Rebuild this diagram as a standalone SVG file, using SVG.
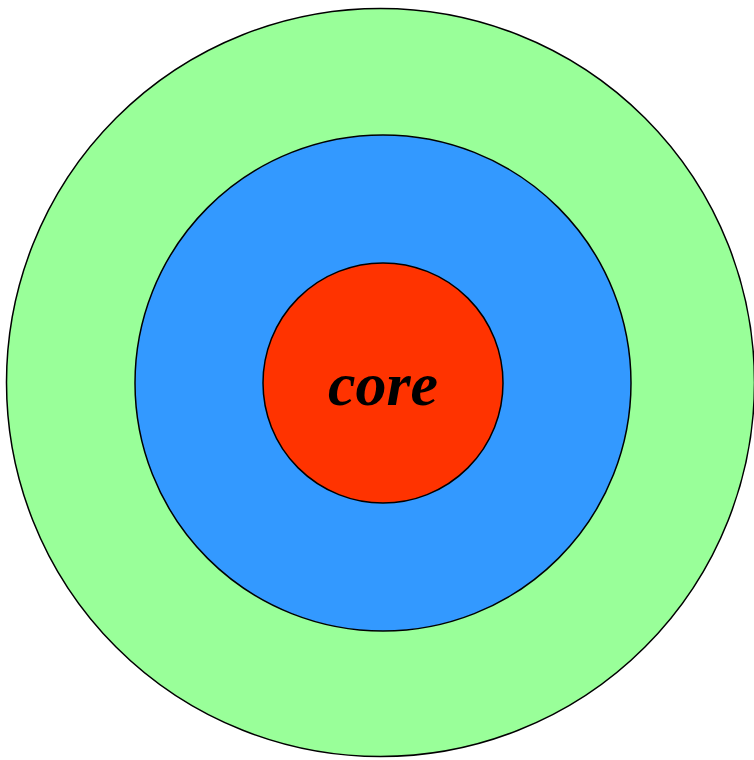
<svg xmlns="http://www.w3.org/2000/svg" width="754" height="760" viewBox="0 0 754 760">
<style>
.ring{stroke:#000;stroke-width:1.5}
.lbl{font-family:"Liberation Serif","Times New Roman",Times,serif;font-weight:bold;font-style:italic;font-size:62px;fill:#000}
</style>
<rect width="754" height="760" fill="#fff"/>
<g id="outer"><circle class="ring" cx="380.5" cy="382.5" r="374" fill="#99ff99"/></g>
<g id="middle"><circle class="ring" cx="383" cy="383" r="248" fill="#3399ff"/></g>
<g id="core"><circle class="ring" cx="383" cy="383" r="120" fill="#ff3300"/>
<text class="lbl" x="383" y="405" text-anchor="middle">core</text></g>
<g id="connectors"/>
</svg>
